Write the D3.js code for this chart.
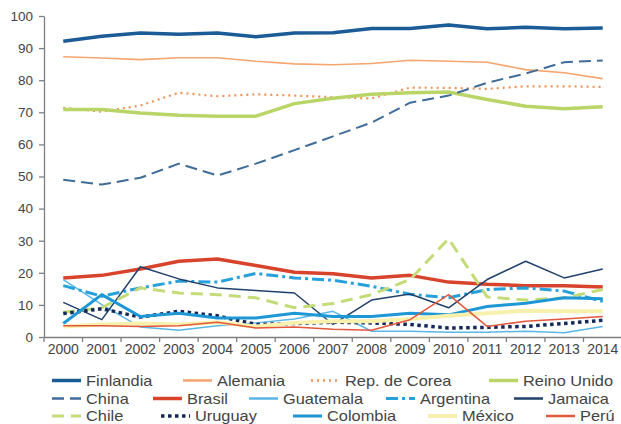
<!DOCTYPE html>
<html>
<head>
<meta charset="utf-8">
<script src="https://cdn.jsdelivr.net/npm/d3@7"></script>
<style>
  body { margin: 0; background: #fff; }
  svg { display: block; font-family: "Liberation Sans", Arial, sans-serif; }
</style>
</head>
<body>
<div id="chart"></div>
<script>
// --- data
const years = ['2000','2001','2002','2003','2004','2005','2006','2007','2008','2009','2010','2011','2012','2013','2014'];
const yTicks = [0,10,20,30,40,50,60,70,80,90,100];

const finlandia  = [92.1,93.7,94.7,94.3,94.7,93.5,94.7,94.8,96.1,96.1,97.2,96.0,96.5,96.0,96.3];
const alemania   = [87.3,86.9,86.4,87.0,87.0,85.9,85.1,84.8,85.2,86.2,85.9,85.6,83.3,82.3,80.5];
const corea      = [71.4,70.2,72.1,76.1,75.0,75.6,75.2,74.7,74.3,77.7,77.6,77.3,78.1,78.1,77.9];
const reinoUnido = [70.9,70.9,69.8,69.1,68.8,68.8,72.7,74.4,75.6,76.1,76.3,74.0,71.9,71.1,71.7];
const china      = [49.0,47.5,49.6,54.0,50.3,54.0,58.2,62.5,66.8,73.0,75.2,79.2,82.1,85.6,86.1];
const brasil     = [18.4,19.2,21.2,23.6,24.3,22.3,20.2,19.7,18.4,19.2,17.1,16.4,16.0,16.0,15.6];
const guatemala  = [17.9,10.1,3.1,2.1,3.5,4.4,5.6,8.0,1.8,1.8,1.5,1.5,1.8,1.3,3.3];
const argentina  = [16.0,12.7,15.3,17.4,17.1,19.8,18.4,17.7,15.8,13.3,12.2,14.8,15.3,14.3,11.1];
const jamaica    = [10.8,5.4,21.9,18.1,15.3,14.5,13.7,3.9,11.5,13.4,9.1,17.9,23.6,18.4,21.2];
const chile      = [7.7,9.1,15.3,13.7,13.2,12.2,9.1,10.4,13.2,17.9,30.6,12.5,11.5,12.2,14.8];
const uruguay    = [7.3,8.8,6.2,8.0,6.6,3.9,4.2,4.6,4.4,3.9,2.8,3.0,3.3,4.2,5.2];
const colombia   = [4.2,13.2,6.4,7.4,5.9,5.9,7.4,6.4,6.4,7.4,6.9,9.5,10.5,12.2,11.9];
const mexico     = [3.3,3.9,4.2,3.9,4.6,3.3,4.4,4.9,4.9,5.6,6.6,7.4,8.2,8.0,8.0];
const peru       = [3.5,3.5,3.3,3.5,4.6,2.8,3.1,2.4,2.1,5.4,13.2,3.3,4.9,5.6,6.4];

// series styles (drawing order = legend order)
const series = [
  {name:'Finlandia',      values:finlandia,  color:'#1b5b96', w:3.5, dash:null},
  {name:'Alemania',       values:alemania,   color:'#f6a56e', w:1.6, dash:null},
  {name:'Rep. de Corea',  values:corea,      color:'#f39157', w:2.2, dash:'2,4'},
  {name:'Reino Unido',    values:reinoUnido, color:'#b9d567', w:3.5, dash:null},
  {name:'China',          values:china,      color:'#3f6c99', w:2,   dash:'12,6'},
  {name:'Brasil',         values:brasil,     color:'#d8432c', w:3.5, dash:null},
  {name:'Guatemala',      values:guatemala,  color:'#5ab6e6', w:1.5, dash:null},
  {name:'Argentina',      values:argentina,  color:'#27a1da', w:3,   dash:'12,4,3,4'},
  {name:'Jamaica',        values:jamaica,    color:'#21406b', w:1.5, dash:null},
  {name:'Chile',          values:chile,      color:'#c3dc78', w:3,   dash:'12,7'},
  {name:'Uruguay',        values:uruguay,    color:'#14295a', w:3.5, dash:'3.5,3.5'},
  {name:'Colombia',       values:colombia,   color:'#1e98d4', w:3,   dash:null},
  {name:'México',         values:mexico,     color:'#f8f1ad', w:4,   dash:null},
  {name:'Perú',           values:peru,       color:'#e3573d', w:1.5, dash:null}
];

// legend layout: [x of swatch, row]
const legendPos = [
  [52,0],[183,0],[311,0],[489,0],
  [52,1],[153,1],[249,1],[386,1],[514,1],
  [52,2],[161,2],[293,2],[428,2],[546,2]
];

const width = 621, height = 424;
const svg = d3.select('#chart').append('svg')
  .attr('width', width).attr('height', height);

const x = d3.scaleBand().domain(years).range([44, 622]);
const y = d3.scaleLinear().domain([0, 100]).range([337, 16]);
const textColor = '#444';
const axisColor = '#7f7f7f';

// --- y axis
const gy = svg.append('g').attr('transform', 'translate(44,0)')
  .call(d3.axisLeft(y).tickValues(yTicks).tickSize(5).tickPadding(6).tickSizeOuter(0));
gy.select('.domain').attr('stroke', axisColor).attr('stroke-width', 1.3);
gy.selectAll('.tick line').attr('stroke', axisColor).attr('stroke-width', 1.3);
gy.selectAll('.tick text').attr('fill', textColor).style('font-size', '13.5px');

// --- x axis (labels centred in bands, ticks between)
const gx = svg.append('g').attr('transform', 'translate(0,337)')
  .call(d3.axisBottom(x).tickSize(0).tickPadding(7).tickSizeOuter(0));
gx.select('.domain').attr('stroke', axisColor).attr('stroke-width', 1.3);
gx.selectAll('.tick text').attr('fill', textColor).style('font-size', '14px');
gx.selectAll('.sep').data(years).enter().append('line')
  .attr('class', 'sep')
  .attr('x1', d => x(d)).attr('x2', d => x(d))
  .attr('y1', 0).attr('y2', 5)
  .attr('stroke', axisColor).attr('stroke-width', 1.3);

// --- lines
const line = d3.line()
  .x((d, i) => x(years[i]) + x.bandwidth() / 2)
  .y(d => y(d));

svg.append('g').selectAll('path').data(series).enter().append('path')
  .attr('d', d => line(d.values))
  .attr('fill', 'none')
  .attr('stroke', d => d.color)
  .attr('stroke-width', d => d.w)
  .attr('stroke-dasharray', d => d.dash)
  .attr('stroke-linejoin', 'round');

// --- legend (text is a bit wide in the original, hence the x-stretch)
const rowY = [380.5, 398.5, 416];
const leg = svg.append('g').selectAll('g').data(series).enter().append('g')
  .attr('transform', (d, i) => `translate(${legendPos[i][0]},${rowY[legendPos[i][1]]})`);
leg.append('line')
  .attr('x1', 0).attr('x2', 29).attr('y1', 0).attr('y2', 0)
  .attr('stroke', d => d.color)
  .attr('stroke-width', d => Math.max(d.w, 2.5))
  .attr('stroke-dasharray', d => d.dash);
leg.append('text')
  .attr('transform', 'translate(34,5) scale(1.17,1)')
  .attr('fill', textColor)
  .style('font-size', '14px')
  .text(d => d.name);
</script>
</body>
</html>
